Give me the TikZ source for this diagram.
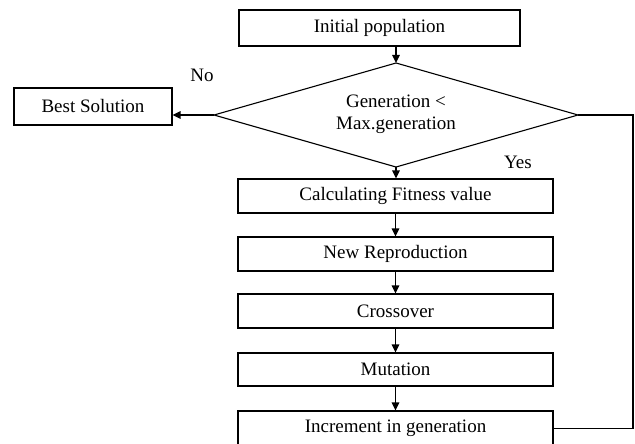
\documentclass[tikz,border=0pt]{standalone}
\usepackage{fontspec}
\setmainfont{Liberation Serif}
\usetikzlibrary{arrows.meta}
\begin{document}
\begin{tikzpicture}[x=1pt,y=-1pt,
  box/.style={draw,line width=1.1pt,inner sep=0pt,font=\fontsize{19}{22}\selectfont},
  lbl/.style={font=\fontsize{19}{22}\selectfont,inner sep=0pt},
  arr/.style={line width=1.4pt,-{Triangle[length=8pt,width=7.5pt]}},
  ln/.style={line width=1.4pt}]
\useasboundingbox (0,0) rectangle (635,444);
\clip (0,0) rectangle (635,444);
\node[box,minimum width=281,minimum height=36] (init) at (379.5,28) {Initial population};
\coordinate (dN) at (396,63);
\coordinate (dW) at (214,115);
\coordinate (dE) at (578,115);
\coordinate (dS) at (396,167);
\draw[line width=1.1pt] (dN) -- (dE) -- (dS) -- (dW) -- cycle;
\node[lbl,align=center] (dec) at (396,114) {Generation <\\Max.generation};
\node[box,minimum width=158,minimum height=37] (best) at (93,106.5) {Best Solution};
\node[box,minimum width=315,minimum height=34] (calc) at (395.5,196) {Calculating Fitness value};
\node[box,minimum width=315,minimum height=34] (rep) at (395.5,254) {New Reproduction};
\node[box,minimum width=315,minimum height=34] (cross) at (395.5,311) {Crossover};
\node[box,minimum width=315,minimum height=33] (mut) at (395.5,369.5) {Mutation};
\node[box,minimum width=315,minimum height=35] (inc) at (395.5,428.5) {Increment in generation};
\node[lbl] (no) at (202,75) {No};
\node[lbl] (yes) at (518,162) {Yes};
\coordinate (loop) at (633,0);
\draw[arr] (dN |- init.south) -- (dN);
\draw[arr] (dW) -- (best.east |- dW);
\draw[arr] (dS) -- (calc.north -| dS);
\draw[arr] (calc) -- (rep);
\draw[arr] (rep) -- (cross);
\draw[arr] (cross) -- (mut);
\draw[arr] (mut) -- (inc);
\draw[ln] (inc.east) -- (inc.east -| loop) -- (loop |- dE) -- (dE);
\end{tikzpicture}
\end{document}
